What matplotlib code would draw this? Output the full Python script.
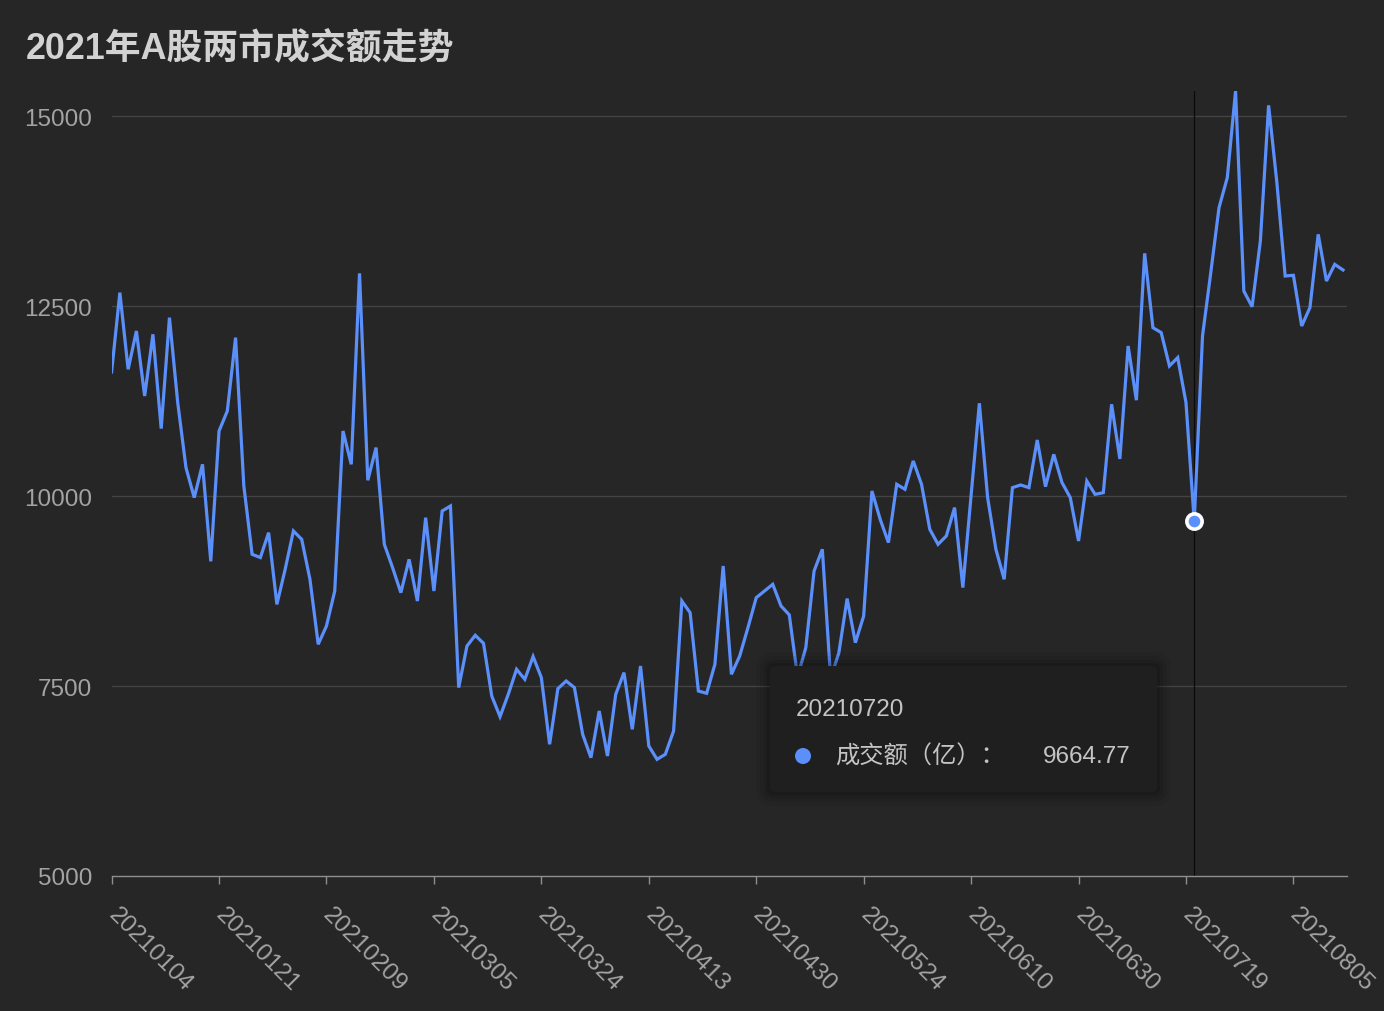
import matplotlib
matplotlib.use("Agg")
import matplotlib.pyplot as plt
from matplotlib.patches import FancyBboxPatch, Circle

# ---------------- data ----------------
title = "2021年A股两市成交额走势"
series_name = "成交额（亿）"
trading_days = {
    "01": [4, 5, 6, 7, 8, 11, 12, 13, 14, 15, 18, 19, 20, 21, 22, 25, 26, 27, 28, 29],
    "02": [1, 2, 3, 4, 5, 8, 9, 10, 18, 19, 22, 23, 24, 25, 26],
    "03": [1, 2, 3, 4, 5, 8, 9, 10, 11, 12, 15, 16, 17, 18, 19, 22, 23, 24, 25, 26, 29, 30, 31],
    "04": [1, 2, 6, 7, 8, 9, 12, 13, 14, 15, 16, 19, 20, 21, 22, 23, 26, 27, 28, 29, 30],
    "05": [6, 7, 10, 11, 12, 13, 14, 17, 18, 19, 20, 21, 24, 25, 26, 27, 28, 31],
    "06": [1, 2, 3, 4, 7, 8, 9, 10, 11, 15, 16, 17, 18, 21, 22, 23, 24, 25, 28, 29, 30],
    "07": [1, 2, 5, 6, 7, 8, 9, 12, 13, 14, 15, 16, 19, 20, 21, 22, 23, 26, 27, 28, 29, 30],
    "08": [2, 3, 4, 5, 6, 9, 10, 11, 12, 13],
}
dates = [f"2021{m}{d:02d}" for m, days in trading_days.items() for d in days]

values = [
    11632, 12676, 11667, 12171, 11316, 12128, 10887, 12347, 11229, 10373,
    9979, 10417, 9140, 10855, 11118, 12084, 10132, 9233, 9190, 9518,
    8574, 9035, 9540, 9430, 8904, 8049, 8290, 8750, 10855, 10417,
    12930, 10207, 10637, 9364, 9057, 8728, 9167, 8618, 9715, 8750,
    9803, 9868, 7479, 8026, 8167, 8062, 7368, 7097, 7391, 7720,
    7588, 7888, 7610, 6733, 7465, 7566, 7479, 6864, 6557, 7171,
    6579, 7391, 7676, 6930, 7763, 6711, 6535, 6601, 6908, 8618,
    8465, 7434, 7404, 7786, 9079, 7654, 7895, 8268, 8662, 8750,
    8838, 8553, 8436, 7620, 8005, 9013, 9299, 7600, 7938, 8650,
    8070, 8421, 10066, 9693, 9387, 10154, 10088, 10461, 10154, 9562,
    9364, 9474, 9847, 8795, 10000, 11220, 9979, 9299, 8904, 10110,
    10145, 10110, 10737, 10123, 10548, 10176, 9979, 9408, 10197, 10022,
    10044, 11207, 10488, 11974, 11261, 13193, 12215, 12150, 11711, 11821,
    11229, 9664.77, 12105, 12939, 13795, 14189, 15329, 12697, 12491, 13355,
    15140, 14123, 12895, 12904, 12237, 12479, 13443, 12829, 13048, 12974,
]
y_ticks = [5000, 7500, 10000, 12500, 15000]
tick_step = 13
highlight_date = "20210720"

# ---------------- style ----------------
BG = "#262627"
LINE = "#5B8FF9"
GRID = "#434344"
AXIS = "#8f8f8f"
LABEL = "#a3a3a3"
TIP = "#c4c4c4"
FONT = ["Liberation Sans", "Noto Sans CJK SC", "DejaVu Sans"]
plt.rcParams["font.family"] = FONT

W, H = 1384, 1012
fig = plt.figure(figsize=(W / 100, H / 100), dpi=100, facecolor=BG)

def fx(px):
    return px / W

def fy(py):
    return 1 - py / H

left, right, top, bottom = 111.6, 1346.8, 92, 877
ax = fig.add_axes([fx(left), fy(bottom), fx(right) - fx(left), fy(top) - fy(bottom)])
ax.set_facecolor(BG)

x = list(range(len(values)))
ax.set_xlim(0, 149.46)
ax.set_ylim(5000, max(values))

for yt in y_ticks[1:]:
    ax.axhline(yt, color=GRID, lw=1.0, zorder=1)

hi = dates.index(highlight_date)
ax.axvline(hi, color="#0a0a0a", lw=0.9, zorder=1.5)

ax.plot(x, values, color=LINE, lw=2.3, zorder=3, solid_joinstyle="miter")
ax.plot([hi], [values[hi]], marker="o", ms=11, mfc=LINE, mec="white", mew=2.6,
        zorder=4, clip_on=False)

for s in ["top", "right", "left"]:
    ax.spines[s].set_visible(False)
ax.spines["bottom"].set_color(AXIS)
ax.spines["bottom"].set_linewidth(1.0)

ax.set_yticks(y_ticks)
ax.set_yticklabels([str(v) for v in y_ticks])
ax.tick_params(axis="y", length=0, pad=14, labelsize=17.5, labelcolor=LABEL)

xt = list(range(0, len(dates), tick_step))
ax.set_xticks(xt)
ax.set_xticklabels([dates[i] for i in xt], rotation=-45, ha="left", va="center",
                   rotation_mode="anchor")
ax.tick_params(axis="x", length=6, width=1.0, color=AXIS, pad=19,
               labelsize=17.5, labelcolor=LABEL)

# title
fig.text(fx(26), fy(50), title, fontsize=25.8, fontweight="bold", color="#d2d2d2",
         ha="left", va="center", family=FONT)

# tooltip
bx0, by0, bx1, by1 = 770, 667, 1157, 793
for grow, alpha in [(14, 0.05), (10, 0.07), (6, 0.09), (3, 0.12)]:
    sh = FancyBboxPatch((fx(bx0 - grow), fy(by1 + grow)),
                        fx(bx1 - bx0 + 2 * grow), (by1 - by0 + 2 * grow) / H,
                        boxstyle=f"round,pad=0,rounding_size={(6 + grow) / W}",
                        transform=fig.transFigure, facecolor="black", edgecolor="none",
                        alpha=alpha, zorder=9)
    fig.patches.append(sh)
box = FancyBboxPatch((fx(bx0), fy(by1)), fx(bx1 - bx0), (by1 - by0) / H,
                     boxstyle=f"round,pad=0,rounding_size={6 / W}",
                     transform=fig.transFigure, facecolor="#1f1f20", edgecolor="none",
                     zorder=10)
fig.patches.append(box)
fig.text(fx(796), fy(710), highlight_date, fontsize=17.5, color=TIP,
         ha="left", va="center", zorder=11)
dot = Circle((803 / 100, (H - 757) / 100), 8 / 100, transform=fig.dpi_scale_trans,
             facecolor=LINE, edgecolor="none", zorder=11)
fig.patches.append(dot)
fig.text(fx(835), fy(757), series_name + "：", fontsize=17.5, color=TIP,
         ha="left", va="center", zorder=11)
fig.text(fx(1131), fy(757), f"{values[hi]:.2f}", fontsize=17.5, color=TIP,
         ha="right", va="center", zorder=11)

fig.savefig("out.png", dpi=100, facecolor=BG)
